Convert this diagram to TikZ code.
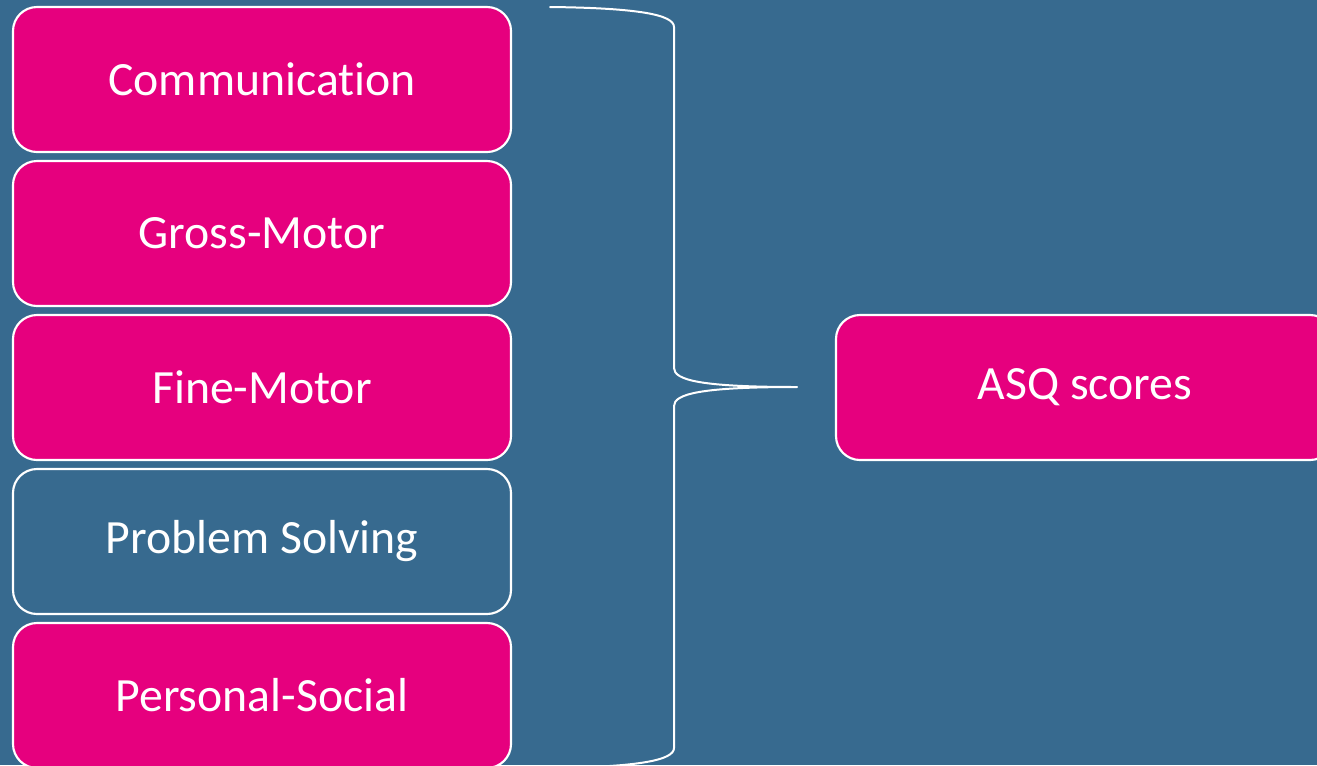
\documentclass[tikz,border=0pt]{standalone}
\usepackage{fontspec}
\setmainfont[Ligatures=NoCommon]{Carlito}
\definecolor{bgblue}{RGB}{55,106,143}
\definecolor{asqpink}{RGB}{230,0,126}
\tikzset{
  areabox/.style={draw=white, line width=1.6pt, rounded corners=18pt, fill=asqpink,
    minimum width=373.5pt, minimum height=108.75pt, text=white,
    font=\fontsize{35.8}{43}\selectfont, inner sep=0pt},
  areaplain/.style={areabox, fill=bgblue}
}
\begin{document}
\begin{tikzpicture}[x=0.75pt, y=-0.75pt, line join=round, line cap=round]
\def\w{1317} \def\h{765}
\fill[bgblue] (0,0) rectangle (\w,\h);
\useasboundingbox (0,0) rectangle (\w,\h);
\node[areabox] (comm) at (262,79.5) {Communication};
\node[areabox] (gross) at (262,233.5) {Gross-Motor};
\node[areabox] (fine) at (262,387.5) {Fine-Motor};
\node[areaplain] (prob) at (262,541.5) {Problem Solving};
\node[areabox] (pers) at (262,695.5) {Personal-Social};
\node[areabox] (asq) at (1085,387.5) {ASQ scores};
% brace
\coordinate (btop) at (550,7);
\coordinate (bbot) at (550,768);
\coordinate (tip) at (797,387);
\draw[white, line width=1.5pt] (btop) .. controls (640,8) and (674,15) .. (674,27)
  -- (674,368) .. controls (674,380) and (700,387) .. (tip)
  .. controls (700,387) and (674,394) .. (674,406)
  -- (674,748) .. controls (674,760) and (640,767) .. (bbot);
\end{tikzpicture}
\end{document}
